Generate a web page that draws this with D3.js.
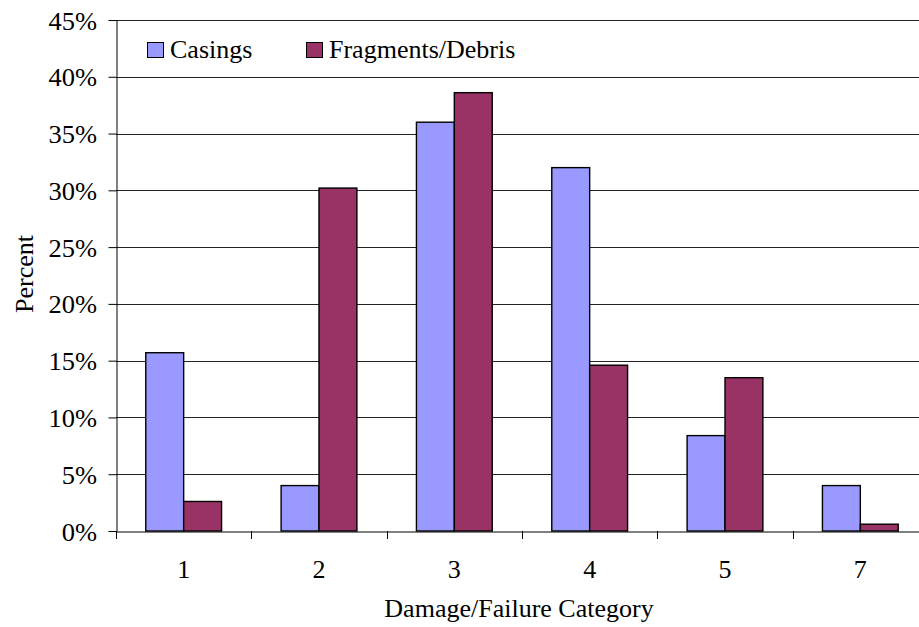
<!DOCTYPE html>
<html><head><meta charset="utf-8">
<script src="https://cdn.jsdelivr.net/npm/d3@7"></script>
<style>body{margin:0;background:#fff;overflow:hidden}svg{display:block}</style>
</head><body>
<svg id="c" width="919" height="627"></svg>
<script>
const categories = ["1","2","3","4","5","7"];
const seriesNames = ["Casings","Fragments/Debris"];
const casings = [15.7, 4.0, 36.0, 32.0, 8.4, 4.0];
const fragments = [2.6, 30.2, 38.6, 14.6, 13.5, 0.6];
const yTicks = [0,5,10,15,20,25,30,35,40,45];
const colors = ["#9999FF","#993366"];

(function(){
const svg = d3.select("#c");
const font = "'Liberation Serif','Times New Roman',serif";
const pLeft = 116, pRight = 928, pTop = 20, pBottom = 531;

const x = d3.scaleBand().domain(categories).range([pLeft, pRight]).paddingInner(0).paddingOuter(0);
const y = d3.scaleLinear().domain([0,45]).range([pBottom, pTop]);
const bw = x.bandwidth()*0.28;
const x1 = d3.scaleBand().domain(seriesNames).range([x.bandwidth()/2 - bw, x.bandwidth()/2 + bw]);

// gridlines
svg.append("g").selectAll("line").data(yTicks.filter(d=>d>0)).join("line")
  .attr("x1", pLeft).attr("x2", pRight)
  .attr("y1", d=>Math.round(y(d))+0.5).attr("y2", d=>Math.round(y(d))+0.5)
  .attr("stroke","#222").attr("stroke-width",1);

// bars
const data = categories.map((c,i)=>({c, vals:[casings[i], fragments[i]]}));
const g = svg.append("g");
data.forEach(d=>{
  d.vals.forEach((v,j)=>{
    g.append("rect")
      .attr("x", x(d.c)+x1(seriesNames[j]))
      .attr("y", y(v))
      .attr("width", x1.bandwidth())
      .attr("height", pBottom - y(v))
      .attr("fill", colors[j]).attr("stroke","#000").attr("stroke-width",1.4);
  });
});

// y axis
const ya = svg.append("g").attr("transform",`translate(${pLeft+0.5},0)`)
  .call(d3.axisLeft(y).tickValues(yTicks).tickFormat(d=>d+"%").tickSize(8).tickSizeOuter(0));
ya.select(".domain").attr("stroke","#000");
ya.selectAll(".tick line").attr("stroke","#000");
ya.selectAll("text").attr("font-family",font).attr("font-size",25).attr("fill","#000")
  .attr("x",0).attr("dy","0.36em").attr("transform","translate(-19.5,0) scale(1.06,1)");

// x axis
const xa = svg.append("g").attr("transform",`translate(0,${pBottom+0.5})`)
  .call(d3.axisBottom(x).tickSize(0).tickSizeOuter(0));
xa.select(".domain").attr("stroke","#000");
xa.selectAll("text").attr("font-family",font).attr("font-size",26).attr("fill","#000").attr("dy","0").attr("y",46);
// boundary ticks
svg.append("g").selectAll("line").data(d3.range(categories.length+1)).join("line")
  .attr("x1", i=>Math.round(pLeft + i*x.step())+0.5).attr("x2", i=>Math.round(pLeft + i*x.step())+0.5)
  .attr("y1", pBottom).attr("y2", pBottom+8).attr("stroke","#000");

// axis titles
svg.append("text").attr("x", 519).attr("y", 617).attr("text-anchor","middle")
  .attr("font-family",font).attr("font-size",26).text("Damage/Failure Category");
svg.append("text").attr("transform","translate(33,274) rotate(-90)").attr("text-anchor","middle")
  .attr("font-family",font).attr("font-size",26).text("Percent");

// legend
const legX = [147, 306];
seriesNames.forEach((s,i)=>{
  svg.append("rect").attr("x",legX[i]+0.5).attr("y",42.5).attr("width",16).attr("height",15)
    .attr("fill",colors[i]).attr("stroke","#000").attr("stroke-width",1);
  svg.append("text").attr("x",legX[i]+23).attr("y",58).attr("font-family",font).attr("font-size",26).text(s);
});
})();
</script>
</body></html>
